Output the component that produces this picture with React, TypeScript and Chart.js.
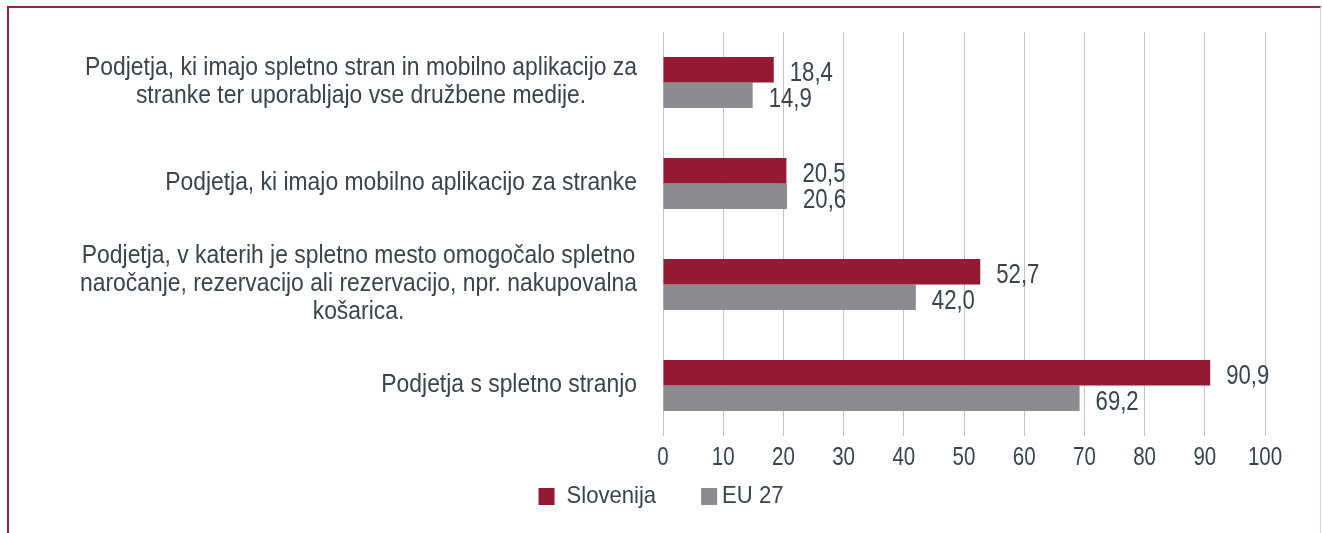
import React, { useEffect, useRef } from "react";
import { Chart, registerables } from "chart.js";

Chart.register(...registerables);

// ---------- data ----------
const categories: string[][] = [
  ["Podjetja, ki imajo spletno stran in mobilno aplikacijo za", "stranke ter uporabljajo vse družbene medije."],
  ["Podjetja, ki imajo mobilno aplikacijo za stranke"],
  ["Podjetja, v katerih je spletno mesto omogočalo spletno", "naročanje, rezervacijo ali rezervacijo, npr. nakupovalna", "košarica."],
  ["Podjetja s spletno stranjo"],
];
const seriesNames = ["Slovenija", "EU 27"];
const sloveniaValues = [18.4, 20.5, 52.7, 90.9];
const eu27Values = [14.9, 20.6, 42.0, 69.2];
const xMin = 0;
const xMax = 100;
const xStep = 10;

// ---------- styles ----------
const RED = "#931a32";
const GREY = "#8c8b90";
const TEXT = "#3b444d";
const GRID = "#c4c4c4";
const FAMILY = "Liberation Sans";

function drawText(ctx: CanvasRenderingContext2D, text: string, x: number, y: number, align: CanvasTextAlign, sx: number) {
  ctx.save();
  ctx.translate(x, y);
  ctx.scale(sx, 1);
  ctx.textAlign = align;
  ctx.fillText(text, 0, 0);
  ctx.restore();
}

export default function App() {
  const ref = useRef<HTMLCanvasElement | null>(null);

  useEffect(() => {
    const canvas = ref.current;
    if (!canvas) return;

    const fontStr = (n: number) => `${n}px "${FAMILY}", sans-serif`;
    const fmt = (v: number) => v.toFixed(1).replace(".", ",");

    const yLabelPlugin = {
      id: "yLabels",
      afterDraw(chart: any) {
        const ctx = chart.ctx;
        const yScale = chart.scales.y;
        const area = chart.chartArea;
        const sx = 0.88;
        ctx.save();
        ctx.font = fontStr(26);
        ctx.fillStyle = TEXT;
        ctx.textBaseline = "middle";
        const LH = 28;
        categories.forEach((lines, i) => {
          const yc = yScale.getPixelForValue(i);
          const block = Math.max(...lines.map((l) => ctx.measureText(l).width * sx));
          const right = area.left - 26;
          const cx = right - block / 2;
          const y0 = yc - ((lines.length - 1) * LH) / 2 - 1;
          lines.forEach((l, k) => drawText(ctx, l, cx, y0 + k * LH, "center", sx));
        });
        ctx.restore();
      },
    };

    const xTickPlugin = {
      id: "xTicks",
      afterDraw(chart: any) {
        const ctx = chart.ctx;
        const xScale = chart.scales.x;
        const area = chart.chartArea;
        ctx.save();
        ctx.font = fontStr(25);
        ctx.fillStyle = TEXT;
        ctx.textBaseline = "middle";
        xScale.ticks.forEach((t: any) => {
          drawText(ctx, String(t.value), xScale.getPixelForValue(t.value), area.bottom + 22, "center", 0.82);
        });
        ctx.restore();
      },
    };

    const valueLabelPlugin = {
      id: "valueLabels",
      afterDatasetsDraw(chart: any) {
        const ctx = chart.ctx;
        ctx.save();
        ctx.font = fontStr(27);
        ctx.fillStyle = TEXT;
        ctx.textBaseline = "middle";
        chart.data.datasets.forEach((ds: any, d: number) => {
          const meta = chart.getDatasetMeta(d);
          meta.data.forEach((bar: any, i: number) => {
            drawText(ctx, fmt(ds.data[i]), bar.x + 16, bar.y + 4, "left", 0.82);
          });
        });
        ctx.restore();
      },
    };

    const legendPlugin = {
      id: "customLegend",
      afterDraw(chart: any) {
        const ctx = chart.ctx;
        const sx = 0.92;
        ctx.save();
        ctx.font = fontStr(24);
        ctx.textBaseline = "middle";
        const boxW = 16;
        const boxH = 17;
        const gaps = [12, 5];
        const between = 45;
        const widths = chart.data.datasets.map((ds: any) => ctx.measureText(ds.label).width * sx);
        let total = 0;
        widths.forEach((w: number, i: number) => {
          total += boxW + gaps[i] + w + (i < widths.length - 1 ? between : 0);
        });
        let x = chart.width / 2 - total / 2;
        const yc = 496.5;
        chart.data.datasets.forEach((ds: any, i: number) => {
          ctx.fillStyle = ds.backgroundColor;
          ctx.fillRect(x, yc - boxH / 2, boxW, boxH);
          x += boxW + gaps[i];
          ctx.fillStyle = TEXT;
          drawText(ctx, ds.label, x, yc, "left", sx);
          x += widths[i] + between;
        });
        ctx.restore();
      },
    };

    const chart = new Chart(canvas, {
      type: "bar",
      data: {
        labels: categories.map((l) => l.join(" ")),
        datasets: [
          {
            label: seriesNames[0],
            data: sloveniaValues,
            backgroundColor: RED,
            categoryPercentage: 0.505,
            barPercentage: 1,
          },
          {
            label: seriesNames[1],
            data: eu27Values,
            backgroundColor: GREY,
            categoryPercentage: 0.505,
            barPercentage: 1,
          },
        ],
      },
      options: {
        indexAxis: "y",
        responsive: false,
        animation: false,
        devicePixelRatio: 1,
        layout: { padding: { top: 32, right: 57, bottom: 60, left: 0 } },
        plugins: {
          legend: { display: false },
          tooltip: { enabled: false },
        },
        scales: {
          x: {
            type: "linear",
            position: "bottom",
            min: xMin,
            max: xMax,
            grid: { color: GRID, lineWidth: 1, drawTicks: false },
            border: { display: false },
            ticks: { stepSize: xStep, display: false },
            afterFit(s: any) {
              s.height = 37;
            },
          },
          y: {
            type: "category",
            grid: { display: false },
            border: { display: false },
            ticks: { display: false },
            afterFit(s: any) {
              s.width = 663;
            },
          },
        },
      },
      plugins: [yLabelPlugin, xTickPlugin, valueLabelPlugin, legendPlugin],
    } as any);

    return () => chart.destroy();
  }, []);

  return (
    <div style={{ position: "fixed", left: 0, top: 0, width: 1322, height: 533, background: "#fff", overflow: "hidden" }}>
      <div
        style={{
          position: "absolute",
          left: 7,
          top: 6,
          width: 1311,
          height: 560,
          borderTop: "2px solid #9e2540",
          borderLeft: "2px solid #9e2540",
          borderRight: "1px solid #ecd0d6",
        }}
      />
      <canvas ref={ref} width={1322} height={533} style={{ position: "absolute", left: 0, top: 0, width: 1322, height: 533 }} />
    </div>
  );
}
